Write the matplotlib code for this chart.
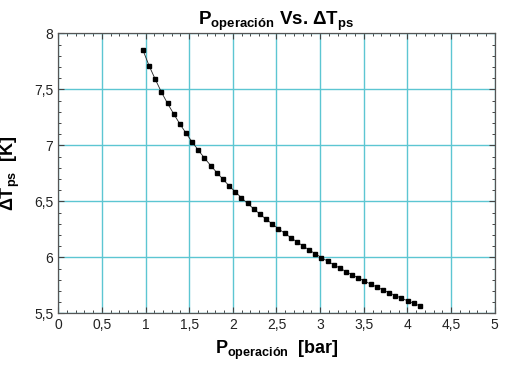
import matplotlib
matplotlib.use("Agg")
import matplotlib.pyplot as plt
from matplotlib.ticker import MultipleLocator, FuncFormatter

# data (P_operacion [bar], Delta T_ps [K])
p_operacion = [0.970, 1.041, 1.111, 1.182, 1.252, 1.323, 1.393, 1.464, 1.534, 1.605,
               1.675, 1.746, 1.816, 1.887, 1.957, 2.028, 2.098, 2.169, 2.239, 2.310,
               2.380, 2.451, 2.521, 2.592, 2.662, 2.733, 2.803, 2.874, 2.944, 3.015,
               3.085, 3.156, 3.226, 3.297, 3.367, 3.438, 3.508, 3.579, 3.649, 3.720,
               3.790, 3.861, 3.931, 4.002, 4.072, 4.143]
delta_t = [7.85, 7.71, 7.59, 7.475, 7.374, 7.280, 7.191, 7.108, 7.030, 6.956,
           6.886, 6.820, 6.757, 6.697, 6.639, 6.584, 6.532, 6.481, 6.433, 6.386,
           6.341, 6.298, 6.256, 6.216, 6.177, 6.139, 6.102, 6.066, 6.032, 5.998,
           5.966, 5.934, 5.903, 5.873, 5.844, 5.816, 5.788, 5.761, 5.735, 5.709,
           5.684, 5.659, 5.635, 5.612, 5.589, 5.566]

plt.rcParams['font.family'] = ['Liberation Sans', 'DejaVu Sans']
plt.rcParams['mathtext.fontset'] = 'custom'
plt.rcParams['mathtext.rm'] = 'Liberation Sans'
plt.rcParams['mathtext.bf'] = 'Liberation Sans:bold'
plt.rcParams['mathtext.it'] = 'Liberation Sans:italic'

grid_color = '#5cc6d2'

fig = plt.figure(figsize=(5.10, 3.67), dpi=100)
ax = fig.add_axes([0.1143, 0.1463, 0.8557, 0.7627])

ax.plot(p_operacion, delta_t, color='#222222', lw=0.6, marker='s', ms=2.2,
        markerfacecolor='black', markeredgecolor='black', zorder=3)

ax.set_xlim(0, 5)
ax.set_ylim(5.5, 8)
ax.xaxis.set_major_locator(MultipleLocator(0.5))
ax.xaxis.set_minor_locator(MultipleLocator(0.1))
ax.yaxis.set_major_locator(MultipleLocator(0.5))
ax.yaxis.set_minor_locator(MultipleLocator(0.1))

comma = FuncFormatter(lambda v, pos: ('%g' % v).replace('.', ','))
ax.xaxis.set_major_formatter(comma)
ax.yaxis.set_major_formatter(comma)

ax.grid(True, which='major', color=grid_color, lw=1.0)
ax.set_axisbelow(True)

ax.tick_params(which='both', direction='in', top=True, right=True,
               colors='#444444', labelcolor='#222222', labelsize=10)
ax.tick_params(which='major', length=4, width=0.8)
ax.tick_params(which='minor', length=2.5, width=0.7)
for s in ax.spines.values():
    s.set_color('#555555')
    s.set_linewidth(0.9)

ax.set_title(r'$\mathbf{P_{operación}}$ Vs. $\mathbf{\Delta T_{ps}}$',
             fontsize=13.5, fontweight='bold', pad=5)
ax.set_xlabel(r'$\mathbf{P_{operación}}$  [bar]', fontsize=13,
              fontweight='bold', labelpad=5)
ax.set_ylabel(r'$\mathbf{\Delta T_{ps}}$  [K]', fontsize=13,
              fontweight='bold')
ax.yaxis.set_label_coords(-0.083, 0.5)

fig.savefig('out.png', dpi=100)
